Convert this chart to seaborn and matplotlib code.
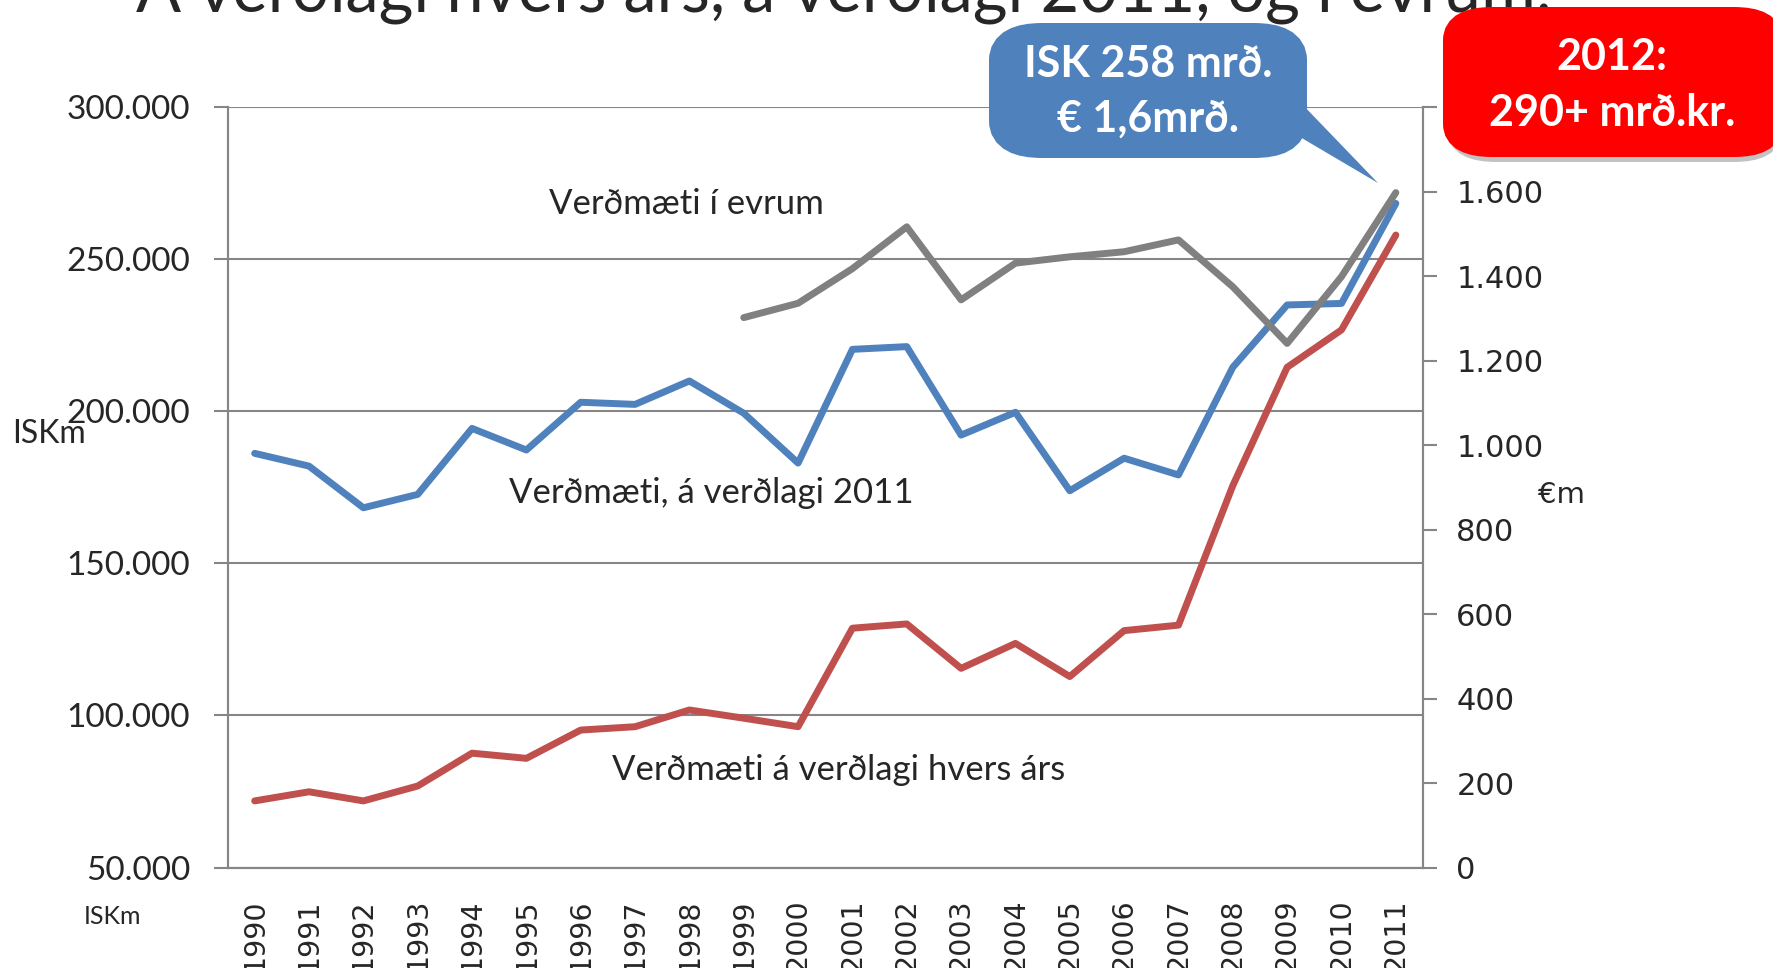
import matplotlib

matplotlib.use("Agg")
import matplotlib.pyplot as plt
import seaborn as sns
from matplotlib.patches import FancyBboxPatch, Polygon
from matplotlib.ticker import FixedLocator, FuncFormatter

years = list(range(1990, 2012))
isk_2011_prices = [186200, 182000, 168300, 172700, 194400, 187300, 203000, 202300, 210000, 199400, 183000,
                   220400, 221300, 192200, 199700, 173900, 184600, 179100, 214500, 235000, 235500, 268400]
isk_current_prices = [71900, 74900, 71900, 76800, 87600, 85900, 95200, 96300, 101800, 99100, 96300,
                      128700, 130100, 115500, 123700, 112800, 127900, 129700, 175600, 214500, 226800, 258000]
eur_years = list(range(1999, 2012))
eur_values = [1302, 1336, 1418, 1517, 1344, 1431, 1446, 1458, 1486, 1375, 1241, 1399, 1598]

BLUE = "#4F81BD"
RED = "#C0504D"
GREY = "#808080"
AXIS_GREY = "#868686"

sns.set_style("white")
plt.rcParams["font.family"] = ["Lato", "DejaVu Sans"]

W, H = 1773, 968
fig = plt.figure(figsize=(W / 100, H / 100), dpi=100)
ax = fig.add_axes([227.5 / W, 1 - 867.5 / H, (1423 - 227.5) / W, (867.5 - 107.3) / H])
ax2 = ax.twinx()


def fx(x):
    return x / W


def fy(y):
    return 1 - y / H


idx = list(range(len(years)))
eur_idx = [years.index(y) for y in eur_years]

sns.lineplot(x=idx, y=isk_2011_prices, ax=ax, color=BLUE, linewidth=5, zorder=3)
sns.lineplot(x=idx, y=isk_current_prices, ax=ax, color=RED, linewidth=5, zorder=3)
sns.lineplot(x=eur_idx, y=eur_values, ax=ax2, color=GREY, linewidth=5, zorder=3)

thousands = FuncFormatter(lambda v, _: f"{v:,.0f}".replace(",", "."))
# the 1.800 label sits behind the red box in the original, so leave it blank
eur_fmt = FuncFormatter(lambda v, _: "" if v >= 1800 else f"{v:,.0f}".replace(",", "."))

ax.set_xlim(-0.5, len(years) - 0.5)
ax.set_ylim(50000, 300000)
ax.set_yticks(range(50000, 300001, 50000))
ax.yaxis.set_major_formatter(thousands)
ax.grid(axis="y", color=AXIS_GREY, linewidth=1.5)
ax.grid(axis="x", visible=False)
ax.set_axisbelow(True)

ax.xaxis.set_major_locator(FixedLocator([i - 0.5 for i in range(len(years) + 1)]))
ax.xaxis.set_minor_locator(FixedLocator(idx))
ax.set_xticklabels([])
ax.set_xticklabels([str(y) for y in years], minor=True, rotation=90, family="DejaVu Sans", fontsize=20.5)
ax.tick_params(axis="x", which="major", length=12, width=1.5, color=AXIS_GREY, direction="out")
ax.tick_params(axis="x", which="minor", length=0, pad=22)
ax.tick_params(axis="y", length=10, width=1.5, color=AXIS_GREY, labelsize=24, pad=17, direction="out")
for lab in ax.get_xticklabels(minor=True):
    lab.set_va("top")

ax2.set_ylim(0, 1800)
ax2.set_yticks(range(0, 1801, 200))
ax2.yaxis.set_major_formatter(eur_fmt)
ax2.tick_params(axis="y", length=10, width=1.5, color=AXIS_GREY, labelsize=22, pad=14, direction="out")
for lab in ax2.get_yticklabels():
    lab.set_family("DejaVu Sans")
ax2.grid(False)

for a in (ax, ax2):
    a.set_xlabel("")
    a.set_ylabel("")
    a.spines["top"].set_visible(False)
    for s in ("left", "right", "bottom"):
        a.spines[s].set_color(AXIS_GREY)
        a.spines[s].set_linewidth(1.5)

# series labels
fig.text(fx(686), fy(204), "Verðmæti í evrum", fontsize=25, ha="center", va="center")
fig.text(fx(711), fy(493), "Verðmæti, á verðlagi 2011", fontsize=25, ha="center", va="center")
fig.text(fx(839), fy(770), "Verðmæti á verðlagi hvers árs", fontsize=25, ha="center", va="center")

# axis unit labels
fig.text(fx(12), fy(434), "ISKm", fontsize=23, ha="left", va="center")
fig.text(fx(112), fy(916), "ISKm", fontsize=18, ha="center", va="center")
fig.text(fx(1561), fy(495), "€m", fontsize=21, ha="center", va="center", family="DejaVu Sans")

# cut-off title at the top
fig.text(fx(136), fy(12), "Á verðlagi hvers árs, á verðlagi 2011, og í evrum.", fontsize=48,
         ha="left", va="baseline")

# blue callout
pointer = Polygon([(fx(1300), fy(102)), (fx(1378), fy(183)), (fx(1300), fy(137))],
                  closed=True, transform=fig.transFigure, facecolor=BLUE, edgecolor="none", zorder=10)
fig.patches.append(pointer)
blue_box = FancyBboxPatch((fx(989 + 18), fy(158 - 18)), fx(1307 - 989 - 36), (158 - 23 - 36) / H,
                          boxstyle="round,pad=0,rounding_size=0.02", transform=fig.transFigure,
                          facecolor=BLUE, edgecolor=BLUE, linewidth=36 * 0.72, zorder=10)
fig.patches.append(blue_box)
fig.text(fx(1148), fy(64), "ISK 258 mrð.", fontsize=31, weight="bold", color="white",
         ha="center", va="center", zorder=11)
fig.text(fx(1148), fy(119), "€ 1,6mrð.", fontsize=31, weight="bold", color="white",
         ha="center", va="center", zorder=11)

# red box with shadow
shadow = FancyBboxPatch((fx(1447 + 14), fy(162 - 14)), fx(1773 - 1447 - 28 + 10), (162 - 12 - 28) / H,
                        boxstyle="round,pad=0,rounding_size=0.02", transform=fig.transFigure,
                        facecolor="#9a9a9a", edgecolor="#9a9a9a", linewidth=28 * 0.72, alpha=0.6, zorder=10)
fig.patches.append(shadow)
red_box = FancyBboxPatch((fx(1443 + 14), fy(157 - 14)), fx(1773 - 1443 - 28 + 10), (157 - 7 - 28) / H,
                         boxstyle="round,pad=0,rounding_size=0.02", transform=fig.transFigure,
                         facecolor="#FF0000", edgecolor="#FF0000", linewidth=28 * 0.72, zorder=11)
fig.patches.append(red_box)
fig.text(fx(1612), fy(57), "2012:", fontsize=31, weight="bold", color="white",
         ha="center", va="center", zorder=12)
fig.text(fx(1612), fy(113), "290+ mrð.kr.", fontsize=31, weight="bold", color="white",
         ha="center", va="center", zorder=12)

fig.savefig("out.png", dpi=100)
